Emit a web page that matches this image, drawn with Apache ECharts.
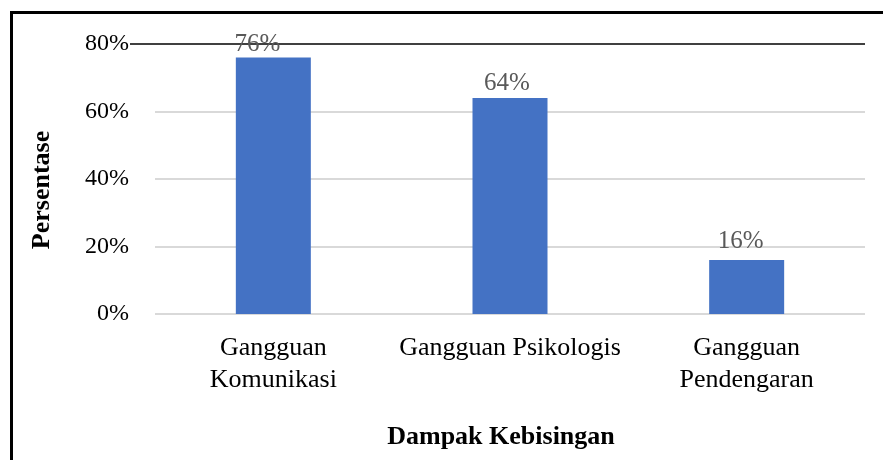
<!doctype html>
<meta charset="utf-8">
<title>Dampak Kebisingan</title>
<style>
	body { margin: 0; background: #fff; }
	#chart { width: 883px; height: 460px; }
</style>
<div id="chart"></div>
<script src="https://cdn.jsdelivr.net/npm/echarts@6/dist/echarts.min.js"></script>
<script>
	const categories = ['Gangguan\nKomunikasi', 'Gangguan Psikologis', 'Gangguan\nPendengaran'];
	const values = [76, 64, 16];
	const yTicks = { min: 0, max: 80, interval: 20 };
	// labels sit a little left of the bar centre in the original
	const labelShift = [[-16, 1], [-3, 0], [-6, -4]];

	const serif = '"Liberation Serif", "Times New Roman", serif';
	var chart = echarts.init(document.getElementById('chart'));
	chart.setOption({
		animation: false,
		grid: { left: 155, right: 18, top: 44, bottom: 146 },
		xAxis: {
			type: 'category',
			data: categories,
			name: 'Dampak Kebisingan',
			nameLocation: 'middle',
			nameGap: 110,
			nameTextStyle: { fontFamily: serif, fontWeight: 'bold', fontSize: 26, color: '#000', padding: [0, 18, 0, 0] },
			axisLine: { show: false },
			axisTick: { show: false },
			axisLabel: { fontFamily: serif, fontSize: 26, color: '#000', margin: 18, lineHeight: 32, interval: 0 }
		},
		yAxis: {
			type: 'value',
			min: yTicks.min,
			max: yTicks.max,
			interval: yTicks.interval,
			name: 'Persentase',
			nameLocation: 'middle',
			nameGap: 100,
			nameTextStyle: { fontFamily: serif, fontWeight: 'bold', fontSize: 26, color: '#000', padding: [0, 22, 0, 0] },
			axisLabel: { fontFamily: serif, fontSize: 24, color: '#000', margin: 26, formatter: '{value}%' },
			splitLine: { lineStyle: { color: '#d9d9d9', width: 2 } }
		},
		series: [{
			type: 'bar',
			data: values.map((v, i) => ({ value: v, label: { offset: labelShift[i] } })),
			barWidth: 75,
			itemStyle: { color: '#4472C4' },
			label: {
				show: true,
				position: 'top',
				distance: 2,
				formatter: '{c}%',
				fontFamily: serif,
				fontSize: 25,
				color: '#595959'
			}
		}]
	});

	// dark top rule at 80% and the frame
	var yTop = chart.convertToPixel({ yAxisIndex: 0 }, yTicks.max);
	chart.setOption({
		graphic: [
			{ type: 'rect', shape: { x: 11.5, y: 12.5, width: 1000, height: 1000 }, style: { fill: null, stroke: '#000', lineWidth: 3 } },
			{ type: 'line', z: 1, shape: { x1: 130, y1: yTop, x2: 865, y2: yTop }, style: { stroke: '#404040', lineWidth: 2 } }
		]
	});
</script>
